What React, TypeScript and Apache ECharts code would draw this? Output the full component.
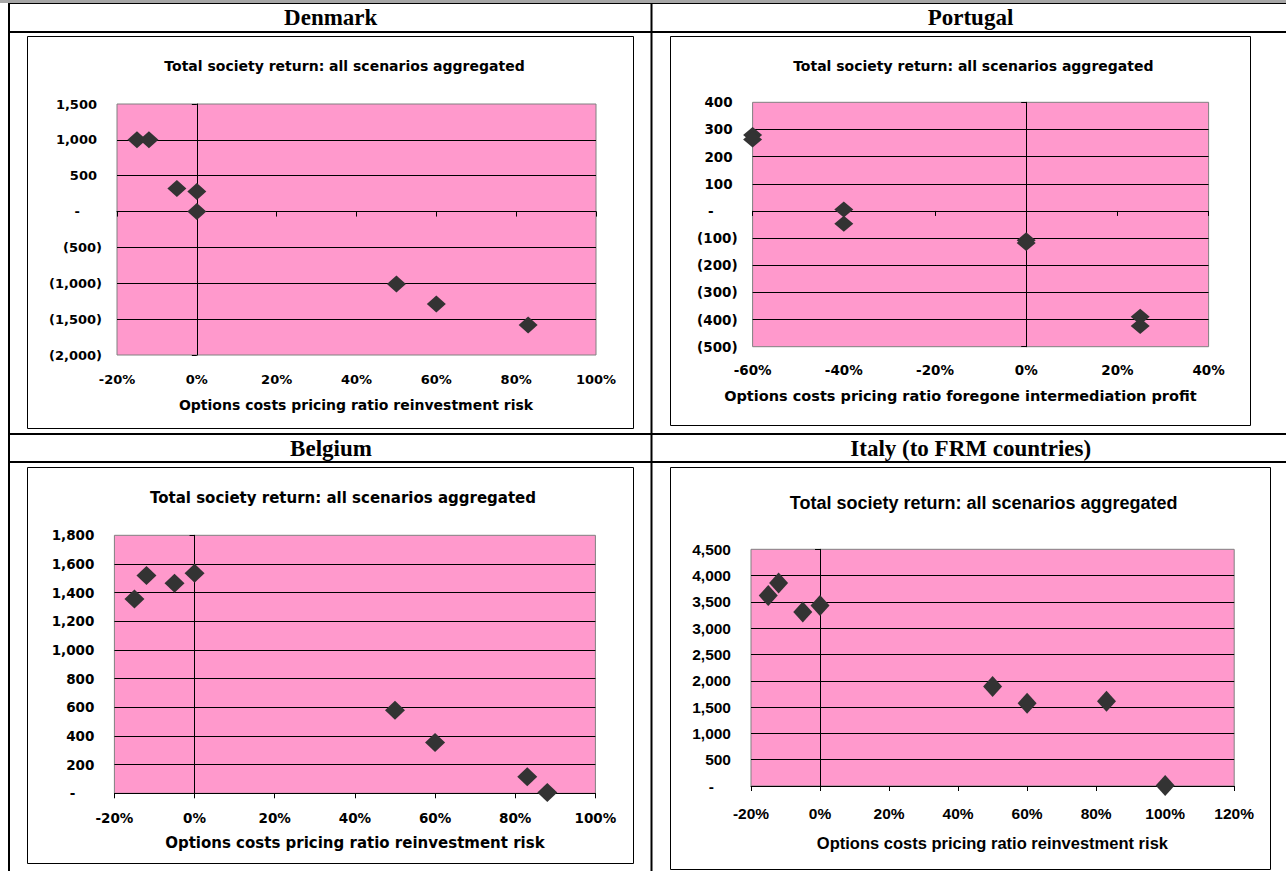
import React, { useEffect, useRef } from "react";
import * as echarts from "echarts";

// ---------- data ----------
const countries = ["Denmark", "Portugal", "Belgium", "Italy (to FRM countries)"];
const chartTitle = "Total society return: all scenarios aggregated";
const xAxisNames = [
  "Options costs pricing ratio reinvestment risk",
  "Options costs pricing ratio foregone intermediation profit",
  "Options costs pricing ratio reinvestment risk",
  "Options costs pricing ratio reinvestment risk",
];

const denmarkX = [-15, -12, -5, 0, 0, 50, 60, 83];
const denmarkY = [1000, 1000, 320, 280, 0, -1010, -1290, -1580];
const portugalX = [-60, -60, -40, -40, 0, 0, 25, 25];
const portugalY = [280, 263, 5, -47, -108, -118, -390, -424];
const belgiumX = [-15, -12, -5, 0, 50, 60, 83, 88];
const belgiumY = [1355, 1520, 1465, 1535, 580, 355, 115, 5];
const italyX = [-15, -12, -5, 0, 50, 60, 83, 100];
const italyY = [3620, 3860, 3310, 3430, 1890, 1575, 1610, 10];

// axis ranges: [min, max, interval]
const xRanges = [[-20, 100, 20], [-60, 40, 20], [-20, 100, 20], [-20, 120, 20]];
const yRanges = [[-2000, 1500, 500], [-500, 400, 100], [0, 1800, 200], [0, 4500, 500]];

const xsList = [denmarkX, portugalX, belgiumX, italyX];
const ysList = [denmarkY, portugalY, belgiumY, italyY];

// ---------- layout / style ----------
const layout = [
  { grid: { left: 117, top: 104, width: 479, height: 251 }, box: [27.5, 36.5, 606, 392], head: [330.7, 17.5], title: [344.5, 66], name: [356, 405], font: "DejaVu Sans", tick: 13, titleSize: 14, nameSize: 14, xMargin: 17.5, zeroPad: 22, sym: [19, 17] },
  { grid: { left: 752.6, top: 102.3, width: 456, height: 244.4 }, box: [670.5, 36.5, 580, 389], head: [970.5, 17.5], title: [973.3, 66], name: [960.4, 396], font: "DejaVu Sans", tick: 13.5, titleSize: 14, nameSize: 14.5, xMargin: 16.5, zeroPad: 24, sym: [19, 16] },
  { grid: { left: 114.4, top: 535.3, width: 481, height: 258 }, box: [27.5, 467.5, 606, 396], head: [331, 448], title: [343, 498.3], name: [354.9, 843.3], font: "DejaVu Sans", tick: 13.5, titleSize: 15, nameSize: 15, xMargin: 17.5, zeroPad: 24, sym: [20, 19] },
  { grid: { left: 751, top: 549.3, width: 483.2, height: 236.7 }, box: [670.5, 467.5, 600, 402], head: [970.7, 448], title: [983.7, 502.7], name: [992.4, 843.3], font: "Liberation Sans", tick: 15.5, titleSize: 18, nameSize: 16.5, xMargin: 19, zeroPad: 22, sym: [19, 21] },
];

const PINK = "#FF99CC";
const MARK = "#333333";

function fmtThousands(n: number): string {
  return String(Math.round(n)).replace(/\B(?=(\d{3})+(?!\d))/g, ",");
}

function buildOption() {
  const xAxis: any[] = [];
  const yAxis: any[] = [];
  const grid: any[] = [];
  const series: any[] = [];
  const graphics: any[] = [];

  layout.forEach((L, i) => {
    const [xmin, xmax, xint] = xRanges[i];
    const [ymin, ymax, yint] = yRanges[i];
    const fontBase = { fontFamily: L.font, fontWeight: "bold" as const, fontSize: L.tick, color: "#000" };

    grid.push({
      ...L.grid,
      show: true,
      backgroundColor: PINK,
      borderColor: "#808080",
      borderWidth: 1,
      containLabel: false,
    });

    // zero-crossing x axis (line + ticks)
    xAxis.push({
      gridIndex: i, type: "value", min: xmin, max: xmax, interval: xint, position: "bottom",
      axisLine: { show: true, onZero: true, onZeroAxisIndex: 2 * i, lineStyle: { color: "#000", width: 1 } },
      axisTick: { show: true, length: 5, lineStyle: { color: "#000", width: 1 } },
      axisLabel: { show: false },
      splitLine: { show: false },
    });
    // label x axis at bottom
    xAxis.push({
      gridIndex: i, type: "value", min: xmin, max: xmax, interval: xint, position: "bottom",
      axisLine: { show: false, onZero: false },
      axisTick: { show: false },
      axisLabel: { show: true, margin: L.xMargin, formatter: (v: number) => `${v}%`, ...fontBase },
      splitLine: { show: false },
    });

    // zero-crossing y axis (line + ticks + grid lines)
    yAxis.push({
      gridIndex: i, type: "value", min: ymin, max: ymax, interval: yint, position: "left",
      axisLine: { show: true, onZero: true, onZeroAxisIndex: 2 * i, lineStyle: { color: "#000", width: 1 } },
      axisTick: { show: true, length: 5, lineStyle: { color: "#000", width: 1 } },
      axisLabel: { show: false },
      splitLine: { show: true, showMinLine: false, showMaxLine: false, lineStyle: { color: "#000", width: 1 } },
    });
    // label y axis at left
    yAxis.push({
      gridIndex: i, type: "value", min: ymin, max: ymax, interval: yint, position: "left",
      axisLine: { show: false, onZero: false },
      axisTick: { show: false },
      splitLine: { show: false },
      axisLabel: {
        show: true, margin: 15, ...fontBase,
        formatter: (v: number) => {
          if (v === 0) return "{z|-}";
          const s = fmtThousands(Math.abs(v));
          return v < 0 ? `{n|(${s})}` : `{p|${s}}`;
        },
        rich: {
          n: { ...fontBase },
          p: { ...fontBase, padding: [0, 5, 0, 0] },
          z: { ...fontBase, padding: [0, L.zeroPad, 0, 0] },
        },
      },
    });

    series.push({
      type: "scatter",
      xAxisIndex: 2 * i,
      yAxisIndex: 2 * i,
      data: xsList[i].map((x, j) => [x, ysList[i][j]]),
      symbol: "diamond",
      symbolSize: L.sym,
      itemStyle: { color: MARK, opacity: 1 },
      clip: false,
      z: 5,
    });

    // chart box
    graphics.push({
      type: "rect",
      shape: { x: L.box[0], y: L.box[1], width: L.box[2], height: L.box[3] },
      style: { fill: "rgba(0,0,0,0)", stroke: "#000", lineWidth: 1 },
      z: 1,
    });
    // header text
    graphics.push({
      type: "text", x: L.head[0], y: L.head[1],
      style: { text: countries[i], fontFamily: "Liberation Serif", fontWeight: "bold", fontSize: 23, fill: "#000", align: "center", verticalAlign: "middle" },
      z: 3,
    });
    // chart title
    graphics.push({
      type: "text", x: L.title[0], y: L.title[1],
      style: { text: chartTitle, fontFamily: L.font, fontWeight: "bold", fontSize: L.titleSize, fill: "#000", align: "center", verticalAlign: "middle" },
      z: 3,
    });
    // x axis name
    graphics.push({
      type: "text", x: L.name[0], y: L.name[1],
      style: { text: xAxisNames[i], fontFamily: L.font, fontWeight: "bold", fontSize: L.nameSize, fill: "#000", align: "center", verticalAlign: "middle" },
      z: 3,
    });
  });

  // table lines
  const tableLines = [
    { x1: 8, y1: 32, x2: 1286, y2: 32, w: 2 },
    { x1: 8, y1: 434, x2: 1286, y2: 434, w: 2 },
    { x1: 8, y1: 462, x2: 1286, y2: 462, w: 2 },
    { x1: 9, y1: 3, x2: 9, y2: 871, w: 2 },
    { x1: 651.5, y1: 3, x2: 651.5, y2: 871, w: 2 },
  ];
  graphics.push({ type: "rect", shape: { x: 0, y: 0, width: 1286, height: 3 }, style: { fill: "#a6a6a6" }, z: 2 });
  graphics.push({ type: "line", shape: { x1: 8, y1: 3.5, x2: 1286, y2: 3.5 }, style: { stroke: "#000", lineWidth: 1 }, z: 2 });
  tableLines.forEach((l) => {
    graphics.push({ type: "line", shape: { x1: l.x1, y1: l.y1, x2: l.x2, y2: l.y2 }, style: { stroke: "#000", lineWidth: l.w }, z: 2 });
  });

  return {
    animation: false,
    backgroundColor: "#ffffff",
    grid,
    xAxis,
    yAxis,
    series,
    graphic: { elements: graphics },
  };
}

export default function App() {
  const ref = useRef<HTMLDivElement | null>(null);
  useEffect(() => {
    if (!ref.current) return;
    const chart = echarts.init(ref.current, null, { renderer: "svg" });
    chart.setOption(buildOption() as any);
    return () => chart.dispose();
  }, []);
  return (
    <div
      ref={ref}
      style={{ position: "absolute", left: 0, top: 0, width: 1286, height: 871, background: "#fff" }}
    />
  );
}
